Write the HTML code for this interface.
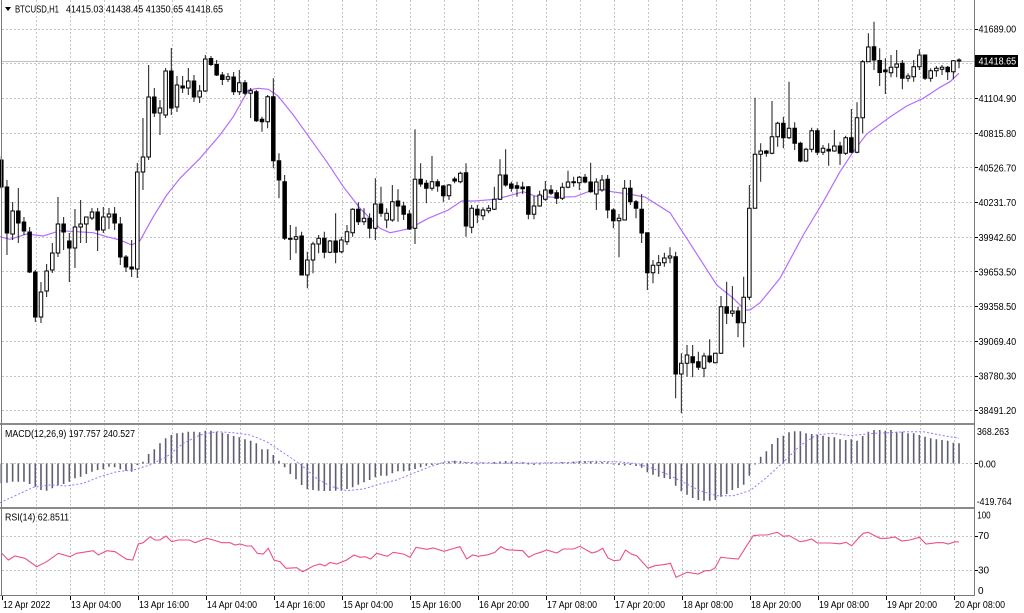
<!DOCTYPE html>
<html><head><meta charset="utf-8">
<style>
html,body{margin:0;padding:0;background:#fff;overflow:hidden}
svg{display:block}
text{font-family:"Liberation Sans",Arial,sans-serif;font-size:10px;fill:#000}
.sc path,.sc rect{vector-effect:non-scaling-stroke}
</style></head>
<body>
<svg width="1024" height="613" viewBox="0 0 1024 613" xmlns="http://www.w3.org/2000/svg">
<rect x="0" y="0" width="1024" height="613" fill="#fff"/>
<!-- vertical grid -->
<path d="M36.5 0V595M70.5 0V595M104.5 0V595M138.5 0V595M172.5 0V595M206.5 0V595M240.5 0V595M274.5 0V595M308.5 0V595M342.5 0V595M376.5 0V595M410.5 0V595M444.5 0V595M478.5 0V595M512.5 0V595M546.5 0V595M580.5 0V595M614.5 0V595M648.5 0V595M682.5 0V595M716.5 0V595M750.5 0V595M784.5 0V595M818.5 0V595M852.5 0V595M886.5 0V595M920.5 0V595M954.5 0V595" stroke="#c6c6c6" stroke-width="1" stroke-dasharray="2,2" fill="none"/>
<!-- horizontal grid -->
<path d="M2 29.5H974M2 63.5H974M2 98.5H974M2 133.5H974M2 167.5H974M2 202.5H974M2 237.5H974M2 271.5H974M2 306.5H974M2 341.5H974M2 376.5H974M2 410.5H974M2 463.5H974M2 536.5H974M2 570.5H974" stroke="#c6c6c6" stroke-width="1" stroke-dasharray="2,2" fill="none"/>
<!-- bid line -->
<path d="M2 61.5H974" stroke="#c0c0c0" stroke-width="1"/>
<!-- MA -->
<polyline fill="none" stroke="#b46cff" stroke-width="1.2" points="0,236.7 10,239.3 26.7,234 43.3,236 60,230.7 76.7,231.7 93.3,232.7 106.7,236.7 120,240 131.7,245 140,240.7 153.3,216.7 166.7,195 180,178.3 200,158.3 220,135 233.3,116.7 248.3,90 258.3,88.3 268.3,89.3 278,96 293.3,115 310,138.3 326.7,161.7 343.3,186.7 360,208.3 380,228.3 390,232.7 400,230.7 410,228.3 428.3,218.3 448.3,210 461.7,201 475,201 495,199.3 508.3,196 523.3,191.7 535,196 555,197.3 575,196.7 588.3,191.7 603.3,189.3 611.7,191.7 628.3,194 645,197 670,212.7 686.7,238.3 716.7,285 733.3,298.3 745,310 750,310 760,302.7 780,278.3 803.3,235 823.3,201.7 840,171.7 853.3,151.7 866.7,134 880,124.3 890,117 906.7,106 923.3,98.3 940,87.3 950,81.7 959,73.3"/>
<!-- candles -->
<g class="sc" transform="matrix(5.667 0 0 1 1.3 0)">
<path stroke="#1a1a1a" stroke-width="1" fill="none" d="M0 156V189M1 180V255M2 202V240M3 188V243M4 217V235M5 227V273M6 270V322M7 282V323M8 264V297M9 243V273M10 197V257M11 217V250M12 233V282M13 209V268M14 200V243M15 217V243M16 208V220M17 208V251M18 207V233M19 208V229M20 207V230M21 217V265M22 255V272M23 240V277M24 163V278M25 118V190M26 65V160M27 88V117M28 100V135M29 68V118M30 48V115M31 76V112M32 76V93M33 68V95M34 75V102M35 85V103M36 55V92M37 56V66M38 60V76M39 72V85M40 73V82M41 72V95M42 70V95M43 80V95M44 88V118M45 90V122M46 116.7V131.7M47 95V128.3M48 78.3V168.3M49 153.3V198.3M50 175V240M51 225V260M52 226.7V253.3M53 231.7V275M54 251.7V288.3M55 241.7V273.3M56 235V253.3M57 231.7V258.3M58 240V253.3M59 213.3V263.3M60 236.7V253.3M61 225V245M62 208.3V236.7M63 202.3V225M64 208.3V225M65 213.3V238.3M66 178.3V240M67 186.7V216.7M68 208.3V228.3M69 185V221.7M70 189.3V221.7M71 201.7V220M72 210V230M73 129.3V244M74 163.3V186.7M75 180V203.3M76 156V190.7M77 179.3V191.7M78 185V201.7M79 184V200M80 176.7V183.3M81 171.7V183.3M82 163.3V236.7M83 205V233.3M84 205V223.3M85 207.3V220M86 205V213.3M87 186.7V210M88 159.3V200M89 149.3V186.7M90 181.7V191.7M91 181.7V196.7M92 181.7V194M93 186V219.3M94 196V219.3M95 190.7V206.7M96 181V200.7M97 185V195M98 190V204M99 182.7V200M100 170.7V188.3M101 176.7V186.7M102 176V190M103 174V183.3M104 162.7V192.7M105 178.3V210M106 175V191.7M107 175V218.3M108 208.3V228.3M109 214V257.3M110 180V220M111 180V205M112 200V218.3M113 194V243M114 232.7V290M115 260V283.3M116 255V274M117 252.7V266.7M118 247.3V263.3M119 251.7V398.3M120 353.3V413.3M121 345V376.7M122 345V377.3M123 351.7V370M124 352.7V377.3M125 339.3V363.3M126 352.7V363.3M127 296V354M128 281.7V324M129 286V316.7M130 306.7V337.3M131 276.7V347.3M132 185V300M133 97.7V208.3M134 143.3V181.7M135 150V156.7M136 101V154.3M137 121.7V146.7M138 116.7V148.3M139 81.7V139M140 122.3V150M141 141.7V162.3M142 147.7V161.7M143 127.7V152.3M144 128.3V155M145 145V155M146 143.3V165.7M147 130V151.7M148 141.7V165M149 135.7V155M150 109V153.3M151 102.3V153.3M152 60V133.3M153 33.3V61.7M154 21.7V70M155 48.3V86M156 58.3V94M157 55V77.3M158 50V77.3M159 60V89.3M160 73.3V81.7M161 60V81.7M162 49.3V70M163 55V80M164 68.3V81.7M165 66V76.7M166 65V75M167 66V80M168 60V79.3M169 58.3V68.3"/>
<g fill="#fff" stroke="#000" stroke-width="1">
<rect x="1.69" y="211" width=".62" height="23"/><rect x="6.69" y="292" width=".62" height="25"/><rect x="7.69" y="271" width=".62" height="20"/><rect x="8.69" y="253" width=".62" height="17"/><rect x="9.69" y="224" width=".62" height="29"/><rect x="12.69" y="227" width=".62" height="21"/><rect x="13.69" y="224" width=".62" height="3"/><rect x="14.69" y="217" width=".62" height="7"/><rect x="15.69" y="212" width=".62" height="6"/><rect x="17.69" y="217" width=".62" height="13"/><rect x="18.69" y="214" width=".62" height="3"/><rect x="23.69" y="172" width=".62" height="97"/><rect x="24.69" y="157" width=".62" height="15"/><rect x="25.69" y="97" width=".62" height="60"/><rect x="27.69" y="108" width=".62" height="5"/><rect x="28.69" y="71" width=".62" height="44"/><rect x="30.69" y="85" width=".62" height="22"/><rect x="32.69" y="81" width=".62" height="7"/><rect x="34.69" y="91" width=".62" height="6"/><rect x="35.69" y="59" width=".62" height="32"/><rect x="39.69" y="76.7" width=".62" height="2.6"/><rect x="41.69" y="82.7" width=".62" height="9"/><rect x="43.69" y="90.7" width=".62" height="2.6"/><rect x="46.69" y="96.7" width=".62" height="25"/><rect x="51.69" y="236.7" width=".62" height="2.6"/><rect x="53.69" y="260" width=".62" height="15"/><rect x="54.69" y="244" width=".62" height="16"/><rect x="55.69" y="238.3" width=".62" height="5.7"/><rect x="57.69" y="241" width=".62" height="11.3"/><rect x="59.69" y="240" width=".62" height="11.7"/><rect x="60.69" y="231.7" width=".62" height="10"/><rect x="61.69" y="209.3" width=".62" height="23.4"/><rect x="63.69" y="218.3" width=".62" height="3.4"/><rect x="65.69" y="204" width=".62" height="24.3"/><rect x="67.69" y="213.3" width=".62" height="6.7"/><rect x="68.69" y="201.7" width=".62" height="18.3"/><rect x="72.69" y="179.3" width=".62" height="49"/><rect x="75.69" y="181.7" width=".62" height="6.6"/><rect x="78.69" y="185" width=".62" height="10.7"/><rect x="80.69" y="173.3" width=".62" height="8.4"/><rect x="82.69" y="208.3" width=".62" height="19"/><rect x="84.69" y="210" width=".62" height="5.7"/><rect x="85.69" y="208.3" width=".62" height="2.4"/><rect x="86.69" y="199.3" width=".62" height="10"/><rect x="87.69" y="175" width=".62" height="24.3"/><rect x="93.69" y="206" width=".62" height="8.3"/><rect x="94.69" y="195" width=".62" height="11"/><rect x="95.69" y="190" width=".62" height="9.3"/><rect x="98.69" y="187.3" width=".62" height="11"/><rect x="99.69" y="182" width=".62" height="5.3"/><rect x="100.69" y="181.7" width=".62" height="1"/><rect x="101.69" y="177.3" width=".62" height="5.4"/><rect x="104.69" y="182" width=".62" height="12"/><rect x="105.69" y="180" width=".62" height="10"/><rect x="108.69" y="218.3" width=".62" height="2.4"/><rect x="109.69" y="188.3" width=".62" height="31.7"/><rect x="114.69" y="265.3" width=".62" height="7.4"/><rect x="115.69" y="262.7" width=".62" height="2.6"/><rect x="116.69" y="258" width=".62" height="4.7"/><rect x="117.69" y="256" width=".62" height="2"/><rect x="119.69" y="363.3" width=".62" height="10.7"/><rect x="120.69" y="355" width=".62" height="8.3"/><rect x="123.69" y="356" width=".62" height="12.3"/><rect x="125.69" y="353.3" width=".62" height="9.4"/><rect x="126.69" y="306.7" width=".62" height="46.6"/><rect x="128.69" y="311" width=".62" height="2.3"/><rect x="130.69" y="297.3" width=".62" height="25.4"/><rect x="131.69" y="208.3" width=".62" height="89"/><rect x="132.69" y="154.3" width=".62" height="54"/><rect x="133.69" y="151" width=".62" height="3.3"/><rect x="135.69" y="136.7" width=".62" height="16.6"/><rect x="136.69" y="123.3" width=".62" height="13.4"/><rect x="138.69" y="128.3" width=".62" height="9.4"/><rect x="141.69" y="149.3" width=".62" height="11.7"/><rect x="142.69" y="130.7" width=".62" height="18.6"/><rect x="144.69" y="148.3" width=".62" height="4"/><rect x="146.69" y="146" width=".62" height="5"/><rect x="148.69" y="137.7" width=".62" height="15.6"/><rect x="150.69" y="117.7" width=".62" height="34.6"/><rect x="151.69" y="61.7" width=".62" height="56"/><rect x="152.69" y="47" width=".62" height="14.7"/><rect x="156.69" y="67.3" width=".62" height="5.4"/><rect x="157.69" y="64" width=".62" height="3.3"/><rect x="159.69" y="76" width=".62" height="2.3"/><rect x="160.69" y="66.7" width=".62" height="10"/><rect x="161.69" y="55" width=".62" height="11.7"/><rect x="163.69" y="70.7" width=".62" height="7.6"/><rect x="164.69" y="68.3" width=".62" height="2.4"/><rect x="165.69" y="67.3" width=".62" height="2"/><rect x="167.69" y="60.7" width=".62" height="11"/><rect x="168.69" y="60" width=".62" height="1"/>
</g>
<g fill="#000" stroke="#000" stroke-width="1">
<rect x="-0.31" y="160" width=".62" height="27"/><rect x="0.69" y="187" width=".62" height="46"/><rect x="2.69" y="211" width=".62" height="12"/><rect x="3.69" y="222" width=".62" height="9"/><rect x="4.69" y="232" width=".62" height="40"/><rect x="5.69" y="272" width=".62" height="45"/><rect x="10.69" y="224" width=".62" height="8"/><rect x="11.69" y="241" width=".62" height="7"/><rect x="16.69" y="212" width=".62" height="18"/><rect x="19.69" y="214" width=".62" height="9"/><rect x="20.69" y="224" width=".62" height="33"/><rect x="21.69" y="257" width=".62" height="10"/><rect x="22.69" y="267" width=".62" height="2"/><rect x="26.69" y="97" width=".62" height="16"/><rect x="29.69" y="71" width=".62" height="37"/><rect x="31.69" y="86" width=".62" height="2"/><rect x="33.69" y="81" width=".62" height="16"/><rect x="36.69" y="58.5" width=".62" height="6"/><rect x="37.69" y="64.5" width=".62" height="10.5"/><rect x="38.69" y="75" width=".62" height="4.5"/><rect x="40.69" y="77" width=".62" height="14.7"/><rect x="42.69" y="82.7" width=".62" height="10.6"/><rect x="44.69" y="91.7" width=".62" height="29"/><rect x="45.69" y="119.3" width=".62" height="2.4"/><rect x="47.69" y="96.7" width=".62" height="64"/><rect x="48.69" y="160.7" width=".62" height="19.3"/><rect x="49.69" y="181.7" width=".62" height="56.6"/><rect x="50.69" y="238.3" width=".62" height="1"/><rect x="52.69" y="236" width=".62" height="39"/><rect x="56.69" y="238.3" width=".62" height="14"/><rect x="58.69" y="241" width=".62" height="11.3"/><rect x="62.69" y="209.3" width=".62" height="12.4"/><rect x="64.69" y="218.3" width=".62" height="10"/><rect x="66.69" y="204" width=".62" height="9.3"/><rect x="69.69" y="201" width=".62" height="5"/><rect x="70.69" y="206" width=".62" height="8.3"/><rect x="71.69" y="214" width=".62" height="15"/><rect x="73.69" y="179.3" width=".62" height="4.7"/><rect x="74.69" y="183.3" width=".62" height="5"/><rect x="76.69" y="181.7" width=".62" height="4.3"/><rect x="77.69" y="186" width=".62" height="9.7"/><rect x="79.69" y="179" width=".62" height="2"/><rect x="81.69" y="172.7" width=".62" height="53.3"/><rect x="83.69" y="209.3" width=".62" height="5.7"/><rect x="88.69" y="175" width=".62" height="10"/><rect x="89.69" y="184" width=".62" height="4.3"/><rect x="90.69" y="185.7" width=".62" height="2.6"/><rect x="91.69" y="187" width=".62" height="1.7"/><rect x="92.69" y="186.7" width=".62" height="27.6"/><rect x="96.69" y="190" width=".62" height="3.3"/><rect x="97.69" y="192.7" width=".62" height="5.6"/><rect x="102.69" y="177.3" width=".62" height="4.7"/><rect x="103.69" y="182" width=".62" height="9.7"/><rect x="106.69" y="179.3" width=".62" height="30.7"/><rect x="107.69" y="210" width=".62" height="10.7"/><rect x="110.69" y="188.3" width=".62" height="13.4"/><rect x="111.69" y="201.7" width=".62" height="6.6"/><rect x="112.69" y="209.3" width=".62" height="23.7"/><rect x="113.69" y="232.7" width=".62" height="40"/><rect x="118.69" y="256.7" width=".62" height="117.3"/><rect x="121.69" y="356.7" width=".62" height="6"/><rect x="122.69" y="361.7" width=".62" height="5.6"/><rect x="124.69" y="356" width=".62" height="5.7"/><rect x="127.69" y="306.7" width=".62" height="6.6"/><rect x="129.69" y="311" width=".62" height="11.7"/><rect x="134.69" y="151" width=".62" height="2.3"/><rect x="137.69" y="123.3" width=".62" height="14.4"/><rect x="139.69" y="128.3" width=".62" height="15"/><rect x="140.69" y="143.3" width=".62" height="17.7"/><rect x="143.69" y="130.7" width=".62" height="21.6"/><rect x="145.69" y="149.3" width=".62" height="1.7"/><rect x="147.69" y="146" width=".62" height="7.3"/><rect x="149.69" y="137.7" width=".62" height="14.6"/><rect x="153.69" y="46.7" width=".62" height="13.3"/><rect x="154.69" y="60.5" width=".62" height="12"/><rect x="155.69" y="70" width=".62" height="1.7"/><rect x="158.69" y="63.3" width=".62" height="15"/><rect x="162.69" y="55" width=".62" height="23.3"/><rect x="166.69" y="67.3" width=".62" height="4.4"/>
</g>
<!-- MACD histogram -->
<path stroke="#5e5e72" stroke-width="1.6" fill="none" d="M0 463.5V483.3M1 463.5V482.7M2 463.5V481.7M3 463.5V481.7M4 463.5V481.7M5 463.5V484M6 463.5V486.7M7 463.5V490M8 463.5V490.7M9 463.5V488.3M10 463.5V485M11 463.5V484M12 463.5V481.7M13 463.5V478.3M14 463.5V476.7M15 463.5V474M16 463.5V471.7M17 463.5V470M18 463.5V469.3M19 463.5V466.7M20 463.5V467.3M21 463.5V469.3M22 463.5V470.7M23 463.5V471.7M24 463.5V465M25 463.5V461.7M26 463.5V454M27 463.5V449.3M28 463.5V443.3M29 463.5V438.3M30 463.5V435M31 463.5V433.3M32 463.5V432.7M33 463.5V431.7M34 463.5V431.7M35 463.5V432.3M36 463.5V430.7M37 463.5V430.7M38 463.5V431.7M39 463.5V432.7M40 463.5V434M41 463.5V436M42 463.5V437.3M43 463.5V439.3M44 463.5V440.7M45 463.5V443.3M46 463.5V449.3M47 463.5V449.3M48 463.5V455M49 463.5V460.7M50 463.5V467.3M51 463.5V474M52 463.5V479.3M53 463.5V485M54 463.5V489.3M55 463.5V490M56 463.5V490.7M57 463.5V491M58 463.5V491M59 463.5V490.7M60 463.5V490.7M61 463.5V489M62 463.5V487.3M63 463.5V484.7M64 463.5V482.3M65 463.5V480M66 463.5V477.3M67 463.5V475.7M68 463.5V475.7M69 463.5V473.3M70 463.5V471.3M71 463.5V471.3M72 463.5V470.7M73 463.5V469M74 463.5V467.3M75 463.5V465.7M76 463.5V465M77 463.5V464.8M78 463.5V462.5M79 463.5V462M80 463.5V460.7M81 463.5V461M82 463.5V462.3M83 463.5V462.5M84 463.5V464.5M85 463.5V462.5M86 463.5V462.3M87 463.5V462M88 463.5V461.5M89 463.5V461M90 463.5V461.5M91 463.5V462M92 463.5V462.3M93 463.5V464.5M94 463.5V465M95 463.5V464.5M96 463.5V462.5M97 463.5V462.5M98 463.5V462.5M99 463.5V462.3M100 463.5V462M101 463.5V461.5M102 463.5V461M103 463.5V461M104 463.5V461.5M105 463.5V462M106 463.5V462M107 463.5V462.3M108 463.5V464.5M109 463.5V465M110 463.5V465.5M111 463.5V465M112 463.5V466M113 463.5V467.7M114 463.5V472.3M115 463.5V474.7M116 463.5V476.7M117 463.5V478M118 463.5V479M119 463.5V485.7M120 463.5V491.3M121 463.5V494.7M122 463.5V498M123 463.5V500M124 463.5V500.7M125 463.5V500.7M126 463.5V500M127 463.5V496.7M128 463.5V494M129 463.5V490M130 463.5V488M131 463.5V484.7M132 463.5V475.7M133 463.5V464.5M134 463.5V456.7M135 463.5V451.3M136 463.5V444M137 463.5V438M138 463.5V435.7M139 463.5V432.3M140 463.5V431.3M141 463.5V431.3M142 463.5V433.3M143 463.5V434M144 463.5V434.7M145 463.5V435.7M146 463.5V436.7M147 463.5V437.3M148 463.5V439.3M149 463.5V440M150 463.5V439.3M151 463.5V440.7M152 463.5V436M153 463.5V431.7M154 463.5V430M155 463.5V430M156 463.5V430.7M157 463.5V430M158 463.5V431.7M159 463.5V431.7M160 463.5V433.3M161 463.5V433.3M162 463.5V435M163 463.5V436.7M164 463.5V438.3M165 463.5V439.3M166 463.5V440M167 463.5V440.7M168 463.5V442.7M169 463.5V443.3"/>
</g>
<!-- MACD signal -->
<polyline fill="none" stroke="#a070ff" stroke-width="1" stroke-dasharray="2,2" points="0,502.7 16.7,495 33.3,487.3 50,485 66.7,486 83.3,483.3 100,476.7 116.7,471.7 133.3,470 150,465 166.7,456.7 183.3,443.3 200,435 216.7,431.7 233.3,432.7 250,435 266.7,441.7 283.3,452.7 300,464 316.7,478.3 330,486 346.7,490.7 363.3,489 380,484 396.7,480 413.3,473.3 430,466.7 446.7,461.3 463.3,462.3 496.7,463.3 530,463 563.3,462.7 596.7,461.3 620,462 633.3,463.3 650,467.3 666.7,474 683.3,482.3 700,490.7 716.7,495.7 733.3,495.7 750,490.7 766.7,477.3 783.3,462.3 800,445.7 816.7,434.7 833.3,433.3 850,435.7 873.3,433.3 890,432.7 906.7,431.7 923.3,431.7 940,435 959,438.3"/>
<!-- RSI -->
<polyline fill="none" stroke="#ea4f8e" stroke-width="1.1" points="1.7,553.3 8.3,560 15,556 25,558.3 36.7,566.7 46.7,561.7 58.3,553.3 70,556.7 76.7,553.3 93.3,550.7 98.3,555 106.7,550.7 115,551.7 126.7,559.3 132.7,560 138.3,544 143.3,542.7 150,536.7 155,540 160,540 166,536 171.7,541.7 178.3,540 189.3,540 195,542.7 206.7,538.3 213.3,540 221.7,542.7 230,542.7 235,545 240,544 246.7,546 251.7,546 257.3,553.3 263.3,554 268.3,548.3 274,560 280,561.7 286,568.3 296.7,567.7 302.7,571.7 313.3,566 320,564 325,566 330,562.5 336.7,564 346.7,560 354,555 360,557.3 365,556.7 370.7,559 376.7,553.3 387.3,556.3 393.3,552.3 403.3,554 410,557.3 416,547.3 426.7,549.3 433.3,548 444,551.3 451.7,549 460,546.7 466.7,559 472.7,555 478.3,556.3 488.3,554.7 495,552.3 500.7,546.7 506.7,549.7 522.7,550.7 528.7,557.3 535,554 540.7,552.3 546.7,550 556.7,553 563.3,549 573.3,549 580,546.3 591.7,553 596.7,551.7 602.7,548.3 608,558 614,560.7 620,560 625.5,550 631.7,554.3 636.7,555.7 648,568.2 655,565.7 663.3,564.7 670.5,563.3 676,577.3 687.3,572.3 698.3,574 705,570.7 710,570.7 715,568 720.7,557.3 727.3,558 738.3,559 746.7,545.7 753.3,535.7 760,535 766.7,535 777.3,532.3 783.3,536.3 789.3,535.7 800,541.7 806,540.7 811.7,539 817.3,543 830,543 840,543.8 846,542.3 851.7,545.7 858.3,538.3 863.3,533.3 868.3,532.3 873.3,535 880,538.3 886.7,538.3 895,537 901.7,541 910,540 919.3,537.3 926,544 936.7,542.7 943.3,542.7 948.3,544 955,541.7 959,542"/>
<!-- borders / separators -->
<rect x="0" y="423" width="975" height="2" fill="#8a8a8a"/>
<rect x="0" y="507" width="975" height="2" fill="#8a8a8a"/>
<path d="M0 595.5H975M974.5 0V596M1.5 0V596" stroke="#7a7a7a" stroke-width="1" fill="none"/>
<!-- axis ticks -->
<path d="M975 29.5h3M975 98.5h3M975 133.5h3M975 167.5h3M975 202.5h3M975 237.5h3M975 271.5h3M975 306.5h3M975 341.5h3M975 376.5h3M975 410.5h3M975 463.5h3M975 536.5h3M975 570.5h3M2.5 596v4M70.5 596v4M138.5 596v4M206.5 596v4M274.5 596v4M342.5 596v4M410.5 596v4M478.5 596v4M546.5 596v4M614.5 596v4M682.5 596v4M750.5 596v4M818.5 596v4M886.5 596v4M954.5 596v4" stroke="#000" stroke-width="1" fill="none"/>
<!-- header -->
<polygon points="5,7 11,7 8,11" fill="#000"/>
<text x="15" y="12.5" textLength="44" lengthAdjust="spacingAndGlyphs">BTCUSD,H1</text>
<text x="66" y="12.5" textLength="157" lengthAdjust="spacingAndGlyphs">41415.03 41438.45 41350.65 41418.65</text>
<text x="5" y="437" textLength="130" lengthAdjust="spacingAndGlyphs">MACD(12,26,9) 197.757 240.527</text>
<text x="5" y="520.5" textLength="64" lengthAdjust="spacingAndGlyphs">RSI(14) 62.8511</text>
<!-- price axis -->
<g>
<text x="978.5" y="32.5" textLength="37.7" lengthAdjust="spacingAndGlyphs">41689.00</text>
<text x="978.5" y="102" textLength="37.7" lengthAdjust="spacingAndGlyphs">41104.90</text>
<text x="978.5" y="136.8" textLength="37.7" lengthAdjust="spacingAndGlyphs">40815.80</text>
<text x="978.5" y="171.3" textLength="37.7" lengthAdjust="spacingAndGlyphs">40526.70</text>
<text x="978.5" y="206" textLength="37.7" lengthAdjust="spacingAndGlyphs">40231.70</text>
<text x="978.5" y="240.8" textLength="37.7" lengthAdjust="spacingAndGlyphs">39942.60</text>
<text x="978.5" y="275.4" textLength="37.7" lengthAdjust="spacingAndGlyphs">39653.50</text>
<text x="978.5" y="310.1" textLength="37.7" lengthAdjust="spacingAndGlyphs">39358.50</text>
<text x="978.5" y="344.8" textLength="37.7" lengthAdjust="spacingAndGlyphs">39069.40</text>
<text x="978.5" y="379.5" textLength="37.7" lengthAdjust="spacingAndGlyphs">38780.30</text>
<text x="978.5" y="414.2" textLength="37.7" lengthAdjust="spacingAndGlyphs">38491.20</text>
</g>
<rect x="975" y="55" width="43" height="12" fill="#000"/>
<text x="978.5" y="64.7" textLength="37.7" lengthAdjust="spacingAndGlyphs" style="fill:#fff">41418.65</text>
<!-- MACD axis -->
<text x="977" y="435.2" textLength="32" lengthAdjust="spacingAndGlyphs">368.263</text>
<text x="978.5" y="467.5" textLength="17.3" lengthAdjust="spacingAndGlyphs">0.00</text>
<text x="976.7" y="505.2" textLength="35" lengthAdjust="spacingAndGlyphs">-419.764</text>
<!-- RSI axis -->
<text x="977.3" y="518.5" textLength="13.3" lengthAdjust="spacingAndGlyphs">100</text>
<text x="978" y="539.2">70</text>
<text x="978" y="573.5">30</text>
<text x="978" y="594.2">0</text>
<!-- time axis -->
<g>
<text x="3" y="608" textLength="47.3" lengthAdjust="spacingAndGlyphs">12 Apr 2022</text>
<text x="71" y="608" textLength="50" lengthAdjust="spacingAndGlyphs">13 Apr 04:00</text>
<text x="139" y="608" textLength="50" lengthAdjust="spacingAndGlyphs">13 Apr 16:00</text>
<text x="207" y="608" textLength="50" lengthAdjust="spacingAndGlyphs">14 Apr 04:00</text>
<text x="275" y="608" textLength="50" lengthAdjust="spacingAndGlyphs">14 Apr 16:00</text>
<text x="343" y="608" textLength="50" lengthAdjust="spacingAndGlyphs">15 Apr 04:00</text>
<text x="411" y="608" textLength="50" lengthAdjust="spacingAndGlyphs">15 Apr 16:00</text>
<text x="479" y="608" textLength="50" lengthAdjust="spacingAndGlyphs">16 Apr 20:00</text>
<text x="547" y="608" textLength="50" lengthAdjust="spacingAndGlyphs">17 Apr 08:00</text>
<text x="615" y="608" textLength="50" lengthAdjust="spacingAndGlyphs">17 Apr 20:00</text>
<text x="683" y="608" textLength="50" lengthAdjust="spacingAndGlyphs">18 Apr 08:00</text>
<text x="751" y="608" textLength="50" lengthAdjust="spacingAndGlyphs">18 Apr 20:00</text>
<text x="819" y="608" textLength="50" lengthAdjust="spacingAndGlyphs">19 Apr 08:00</text>
<text x="887" y="608" textLength="50" lengthAdjust="spacingAndGlyphs">19 Apr 20:00</text>
<text x="955" y="608" textLength="50" lengthAdjust="spacingAndGlyphs">20 Apr 08:00</text>
</g>
</svg>
</body></html>
